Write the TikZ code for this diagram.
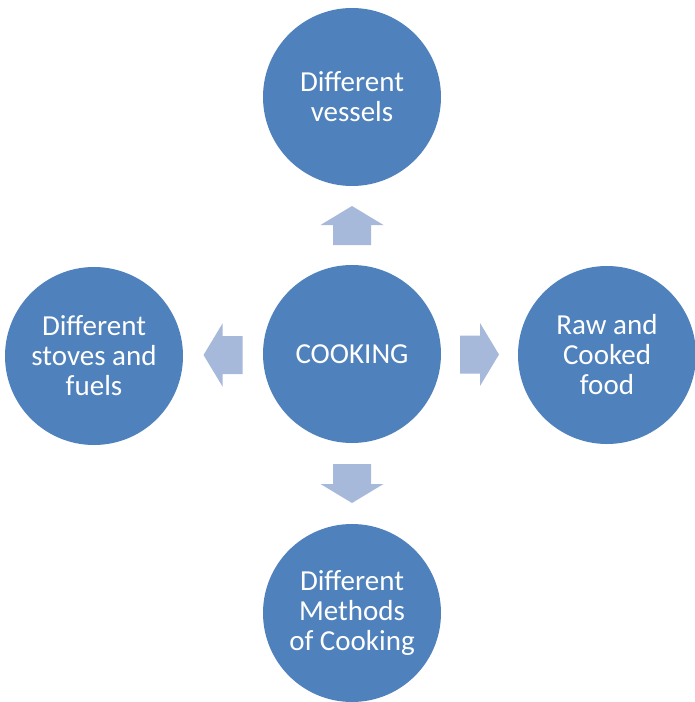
\documentclass[tikz,border=0pt]{standalone}
\usepackage{fontspec}
\setmainfont{Carlito}
\usetikzlibrary{calc}
\definecolor{circ}{HTML}{4F81BD}
\definecolor{arr}{HTML}{A7B9DA}
\begin{document}
\begin{tikzpicture}[x=1pt,y=-1pt,
  bubble/.style={circle,fill=circ,minimum size=178pt,inner sep=0pt,text=white,align=center,font=\fontsize{29}{30}\selectfont},
  blockarrow/.style={fill=arr}]
\useasboundingbox (0,0) rectangle (695,702);
\node[bubble] (c) at (352,354) {COOKING};
\node[bubble] (t) at (352,97) {Different\\vessels};
\node[bubble] (l) at (94,356) {Different\\stoves and\\fuels};
\node[bubble] (r) at (607,355) {Raw and\\Cooked\\food};
\node[bubble] (b) at (352,613) {Different\\Methods\\of Cooking};
\coordinate (au) at ($(c)!0.5!(t)$);
\coordinate (al) at ($(c)!0.5!(l)$);
\coordinate (ar) at ($(c)!0.5!(r)$);
\coordinate (ad) at ($(c)!0.5!(b)$);
\foreach \p/\a in {au/90,al/180,ar/0,ad/-90}{
  \fill[blockarrow,shift={(\p)},rotate=\a]
    (-19.5,-19) -- (0.5,-19) -- (0.5,-31.5) -- (19.5,0) -- (0.5,31.5) -- (0.5,19) -- (-19.5,19) -- cycle;
}
\end{tikzpicture}
\end{document}
